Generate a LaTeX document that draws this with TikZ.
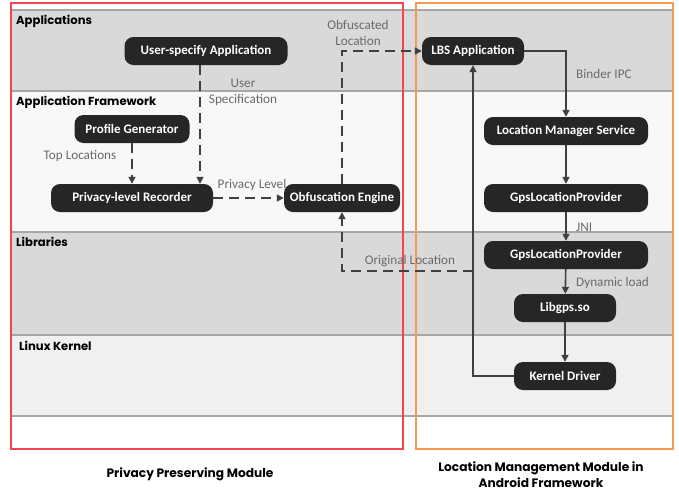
\documentclass[tikz,border=0pt]{standalone}
\usepackage{fontspec}
\setmainfont{Carlito}
\newfontfamily\gothic{Poppins}
\newfontfamily\carl{Carlito}
\usetikzlibrary{arrows.meta,calc}
\definecolor{bandA}{HTML}{D9D9D9}
\definecolor{bandB}{HTML}{F8F8F8}
\definecolor{bandC}{HTML}{F0F0F0}
\definecolor{bandline}{HTML}{A6A6A6}
\definecolor{nodefill}{HTML}{262626}
\definecolor{arrowc}{HTML}{404040}
\definecolor{lblc}{HTML}{6A6A6A}
\definecolor{redbox}{HTML}{F2464A}
\definecolor{orangebox}{HTML}{F59A50}
\tikzset{
  nd/.style={fill=nodefill, rounded corners=9pt, text=white, inner sep=0pt,
    minimum height=28pt, font=\carl\bfseries\fontsize{13}{14}\selectfont},
  hdr/.style={anchor=west, inner sep=0pt, font=\gothic\bfseries\fontsize{11.6}{13}\selectfont},
  captext/.style={inner sep=0pt, align=center, font=\gothic\bfseries\fontsize{12.2}{16}\selectfont},
  lbl/.style={inner sep=0pt, text=lblc, font=\carl\fontsize{13.2}{16}\selectfont},
  arr/.style={draw=arrowc, line width=1.6pt, -{Triangle[length=7pt,width=7pt]}},
  dsh/.style={dash pattern=on 10pt off 6pt}
}
\begin{document}
\begin{tikzpicture}[x=1pt,y=-1pt]
\useasboundingbox (0,0) rectangle (679,493);
% bands
\fill[bandA] (11,10) rectangle (673,91);
\fill[bandB] (11,91) rectangle (673,232);
\fill[bandA] (11,232) rectangle (673,335);
\fill[bandC] (11,335) rectangle (673,416);
\foreach \yy in {10,91,232,335,416} \draw[bandline, line width=1.2pt] (11,\yy) -- (673,\yy);
% module boxes
\draw[redbox, line width=1.3pt] (11,3) rectangle (403,449);
\draw[orangebox, line width=1.3pt] (416,3) rectangle (673,449);
% band headers
\node[hdr] (h1) at (16,21) {Applications};
\node[hdr] (h2) at (16,102) {Application Framework};
\node[hdr] (h3) at (16,242) {Libraries};
\node[hdr] (h4) at (19,346) {Linux Kernel};
% nodes
\node[nd, minimum width=163pt] (usa) at (206,51) {User-specify Application};
\node[nd, minimum width=115pt] (pg) at (132,129) {Profile Generator};
\node[nd, minimum width=162pt] (pr) at (132,198) {Privacy-level Recorder};
\node[nd, minimum width=116pt] (oe) at (342,198) {Obfuscation Engine};
\node[nd, minimum width=102pt] (lbs) at (473,51) {LBS Application};
\node[nd, minimum width=164pt] (lms) at (566,131) {Location Manager Service};
\node[nd, minimum width=164pt] (gp1) at (566,198) {GpsLocationProvider};
\node[nd, minimum width=164pt] (gp2) at (566,255) {GpsLocationProvider};
\node[nd, minimum width=102pt] (lib) at (565,308) {Libgps.so};
\node[nd, minimum width=102pt] (kd) at (565,376) {Kernel Driver};
% helper coordinates
\coordinate (xu) at (200,0);
\coordinate (jn) at (473,271);
% connectors
\draw[arr,dsh] (usa.south -| xu) -- (pr.north -| xu);
\draw[arr,dsh] (pg.south) -- (pr.north);
\draw[arr,dsh] (pr.east) -- (oe.west);
\draw[arr,dsh] (oe.north) |- (lbs.west);
\draw[arr] (kd.west) -| (lbs.south);
\draw[arr,dsh] (jn) -| (oe.south);
\draw[arr] (lbs.east) -| (lms.north);
\draw[arr] (lms) -- (gp1);
\draw[arr] (gp1) -- (gp2);
\draw[arr] (gp2) -- (lib);
\draw[arr] (lib) -- (kd);
% labels
\node[lbl, align=center] (l1) at (243,92) {User\\Specification};
\node[lbl] (l2) at (80,156) {Top Locations};
\node[lbl] (l3) at (252,185) {Privacy Level};
\node[lbl, align=center] (l4) at (358,33) {Obfuscated\\Location};
\node[lbl] (l5) at (410,261) {Original Location};
\node[lbl, anchor=west] (l6) at (576,74) {Binder IPC};
\node[lbl, anchor=west] (l7) at (576,227) {JNI};
\node[lbl, anchor=west] (l8) at (576,283) {Dynamic load};
% captions
\node[captext] (c1) at (190,474) {Privacy Preserving Module};
\node[captext] (c2) at (541,475) {Location Management Module in\\Android Framework};
\end{tikzpicture}
\end{document}
